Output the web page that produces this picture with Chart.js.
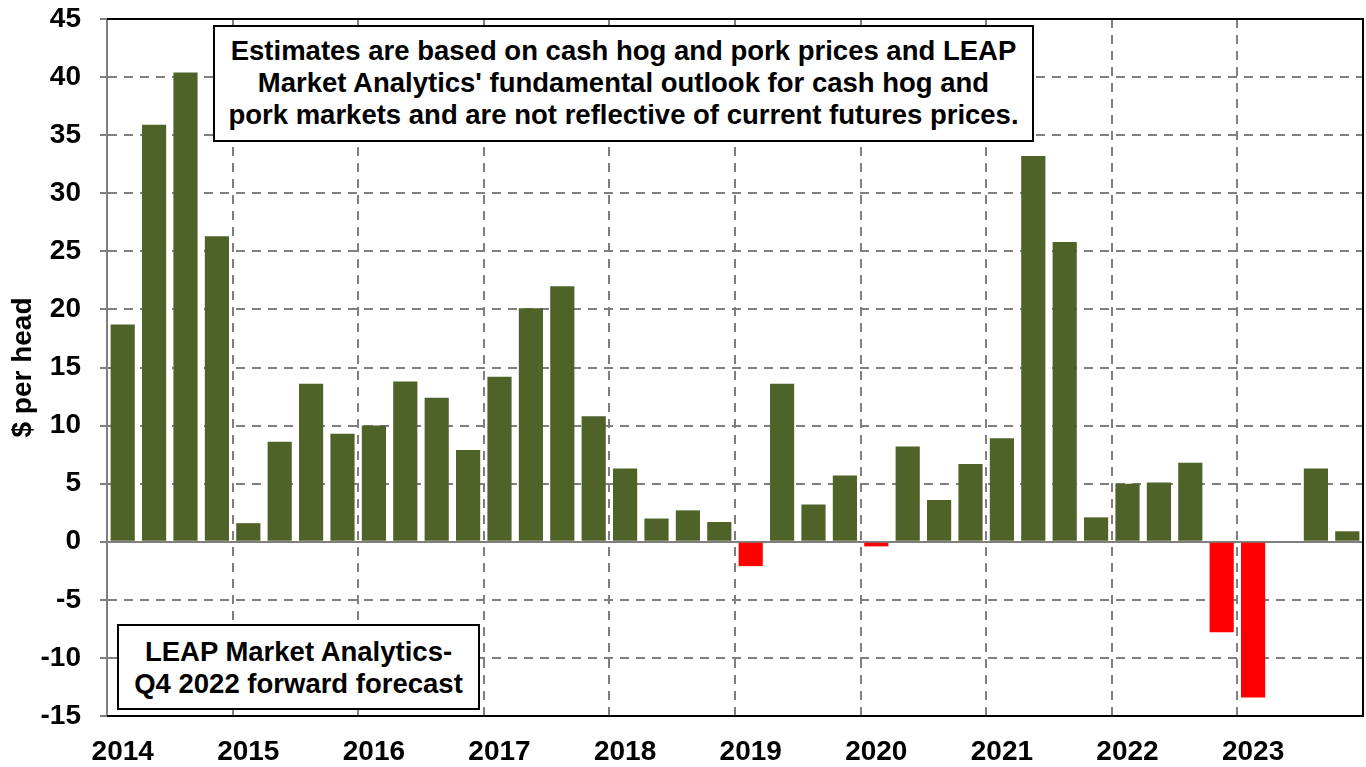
<!DOCTYPE html>
<html>
<head>
<meta charset="utf-8">
<title>Hog margins</title>
<script src="https://cdn.jsdelivr.net/npm/chart.js@4.4.1/dist/chart.umd.min.js"></script>
<style>
  html, body { margin: 0; padding: 0; background: #fff; overflow: hidden; }
  #wrap { position: relative; width: 1366px; height: 767px; }
  .note {
    position: absolute;
    background: #fff;
    border: 2px solid #000;
    box-sizing: border-box;
    font-family: 'Liberation Sans', Arial, sans-serif;
    font-weight: bold;
    font-size: 27.5px;
    line-height: 32px;
    text-align: center;
    color: #000;
    white-space: nowrap;
  }
  #note1 { left: 213px; top: 25px; width: 821px; height: 117px; padding-top: 8px; }
  #note2 { left: 117px; top: 624px; width: 363px; height: 86px; padding-top: 10px; }
</style>
</head>
<body>
<div id="wrap">
  <canvas id="chart" width="1366" height="767"></canvas>
  <div class="note" id="note1">Estimates are based on cash hog and pork prices and LEAP<br>Market Analytics' fundamental outlook for cash hog and<br>pork markets and are not reflective of current futures prices.</div>
  <div class="note" id="note2">LEAP Market Analytics-<br>Q4 2022 forward forecast</div>
</div>
<script>
// quarterly data, 2014 Q1 .. 2023 Q4
const years = [2014, 2015, 2016, 2017, 2018, 2019, 2020, 2021, 2022, 2023];
const quarters = ['Q1', 'Q2', 'Q3', 'Q4'];
const margins = [
  18.7, 35.9, 40.4, 26.3,
  1.6, 8.6, 13.6, 9.3,
  10.0, 13.8, 12.4, 7.9,
  14.2, 20.1, 22.0, 10.8,
  6.3, 2.0, 2.7, 1.7,
  -2.1, 13.6, 3.2, 5.7,
  -0.4, 8.2, 3.6, 6.7,
  8.9, 33.2, 25.8, 2.1,
  5.0, 5.1, 6.8, -7.8,
  -13.4, null, 6.3, 0.9
];
const yTicks = { min: -15, max: 45, step: 5 };

const labels = [];
years.forEach(y => quarters.forEach(q => labels.push(y + ' ' + q)));

const GREEN = '#4f6228';
const RED = '#ff0000';
const GRID = '#7f7f7f';
const FONT = "'Liberation Sans', Arial, sans-serif";

Chart.defaults.font.family = FONT;
Chart.defaults.color = '#000';

// black frame on top, right and bottom of the plot area
const framePlugin = {
  id: 'frame',
  afterDraw(chart) {
    const { ctx, chartArea: a } = chart;
    ctx.save();
    ctx.strokeStyle = '#000';
    ctx.lineWidth = 2;
    ctx.beginPath();
    ctx.moveTo(a.left, a.top);
    ctx.lineTo(a.right, a.top);
    ctx.lineTo(a.right, a.bottom);
    ctx.lineTo(a.left, a.bottom);
    ctx.stroke();
    ctx.restore();
  }
};

new Chart(document.getElementById('chart'), {
  type: 'bar',
  data: {
    labels: labels,
    datasets: [{
      data: margins,
      backgroundColor: c => (c.raw < 0 ? RED : GREEN),
      borderWidth: 0,
      categoryPercentage: 1.0,
      barPercentage: 0.77,
    }],
  },
  options: {
    responsive: false,
    animation: false,
    layout: { autoPadding: false, padding: { top: 19, right: 3, left: 0, bottom: 0 } },
    plugins: {
      legend: { display: false },
      tooltip: { enabled: false },
    },
    scales: {
      x: {
        afterFit: s => { s.height = 51; s.paddingLeft = 0; s.paddingRight = 0; },
        grid: {
          offset: true,
          drawTicks: false,
          lineWidth: 2,
          color: c => (c.index > 0 && c.index < labels.length && c.index % 4 === 0 ? GRID : 'rgba(0,0,0,0)'),
        },
        border: { display: false, dash: [9, 7] },
        ticks: {
          autoSkip: false,
          maxRotation: 0,
          padding: 19,
          font: { size: 28, weight: 'bold' },
          callback: (v, i) => (i % 4 === 0 ? String(years[i / 4]) : ''),
        },
      },
      y: {
        min: yTicks.min,
        max: yTicks.max,
        // fixed axis width, and no extra room for the half-height of the top label
        afterFit: s => { s.width = 107; s.paddingTop = 0; s.paddingBottom = 0; },
        grid: {
          lineWidth: 2,
          color: GRID,
          tickLength: 7,
          tickColor: GRID,
        },
        border: {
          color: GRID,
          width: 2,
          dash: c => (c.tick && c.tick.value === 0 ? [] : [9, 7]),
        },
        ticks: {
          stepSize: yTicks.step,
          padding: 19,
          font: { size: 28, weight: 'bold' },
        },
        title: {
          display: true,
          text: '$ per head',
          padding: { top: 6, bottom: 0 },
          font: { size: 28, weight: 'bold' },
        },
      },
    },
  },
  plugins: [framePlugin],
});
</script>
</body>
</html>
